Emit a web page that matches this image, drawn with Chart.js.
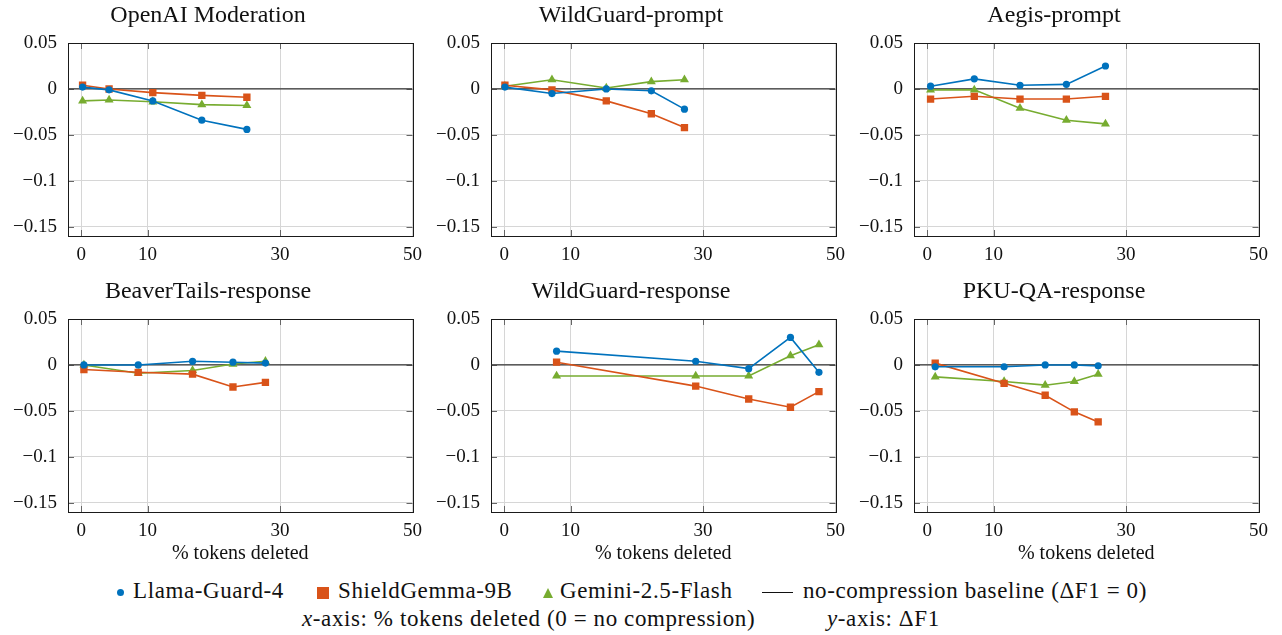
<!DOCTYPE html>
<html>
<head>
<meta charset="utf-8">
<script src="https://cdn.jsdelivr.net/npm/chart.js@4.4.0/dist/chart.umd.min.js"></script>
<style>
  body { margin: 0; background: #fff; width: 1282px; height: 635px; position: relative; overflow: hidden;
         font-family: "Liberation Serif", "Times New Roman", serif; color: #111; }
  canvas { position: absolute; }
  .lg { position: absolute; font-size: 23px; line-height: 24px; letter-spacing: 0.6px; white-space: nowrap; }
  .mk { position: absolute; }
</style>
</head>
<body>
<canvas id="c0" width="430" height="265" style="left:0px;top:0px"></canvas>
<canvas id="c1" width="430" height="265" style="left:423px;top:0px"></canvas>
<canvas id="c2" width="430" height="265" style="left:846px;top:0px"></canvas>
<canvas id="c3" width="430" height="290" style="left:0px;top:276px"></canvas>
<canvas id="c4" width="430" height="290" style="left:423px;top:276px"></canvas>
<canvas id="c5" width="430" height="290" style="left:846px;top:276px"></canvas>

<!-- legend -->
<div class="mk" style="left:117px;top:589px;width:7px;height:7px;border-radius:50%;background:#0072BD"></div>
<div class="lg" style="left:133px;top:579px">Llama-Guard-4</div>
<div class="mk" style="left:317px;top:587px;width:12px;height:12px;background:#D95319"></div>
<div class="lg" style="left:338px;top:579px">ShieldGemma-9B</div>
<div class="mk" style="left:543px;top:588px;width:0;height:0;border-left:5px solid transparent;border-right:5px solid transparent;border-bottom:10px solid #77AC30"></div>
<div class="lg" style="left:560px;top:579px">Gemini-2.5-Flash</div>
<div class="mk" style="left:762px;top:592px;width:31px;height:1.4px;background:#111"></div>
<div class="lg" style="left:803px;top:579px">no-compression baseline (ΔF1 = 0)</div>
<div class="lg" style="left:302px;top:607px"><i>x</i>-axis: % tokens deleted (0 = no compression)</div>
<div class="lg" style="left:827px;top:607px"><i>y</i>-axis: ΔF1</div>

<script>
// axis settings
const xTicks = [0, 10, 30, 50];
const yTicks = [-0.15, -0.1, -0.05, 0, 0.05];
const xMin = -2, xMax = 50, yMin = -0.16, yMax = 0.05;
const baselineValue = 0;

const modelNames = ['Llama-Guard-4', 'ShieldGemma-9B', 'Gemini-2.5-Flash'];
const modelColors = ['#0072BD', '#D95319', '#77AC30'];
const modelMarkers = ['circle', 'rect', 'triangle'];
const markerRadius = [3.6, 5.2, 5.2];

const panelTitles = ['OpenAI Moderation', 'WildGuard-prompt', 'Aegis-prompt',
                     'BeaverTails-response', 'WildGuard-response', 'PKU-QA-response'];

// OpenAI Moderation
const openaiX      = [0.2, 4.2, 10.8, 18.2, 25.0];
const openaiLlama  = [0.002, -0.001, -0.013, -0.034, -0.044];
const openaiShield = [0.004, 0.000, -0.004, -0.007, -0.009];
const openaiGemini = [-0.013, -0.012, -0.014, -0.017, -0.018];

// WildGuard-prompt
const wgPromptX      = [0.1, 7.2, 15.4, 22.2, 27.2];
const wgPromptLlama  = [0.002, -0.005, 0.000, -0.002, -0.022];
const wgPromptShield = [0.004, -0.001, -0.013, -0.027, -0.042];
const wgPromptGemini = [0.003, 0.010, 0.001, 0.008, 0.010];

// Aegis-prompt
const aegisX      = [0.5, 7.1, 14.0, 21.0, 26.9];
const aegisLlama  = [0.003, 0.011, 0.004, 0.005, 0.025];
const aegisShield = [-0.011, -0.008, -0.011, -0.011, -0.008];
const aegisGemini = [-0.001, -0.001, -0.021, -0.034, -0.038];

// BeaverTails-response
const beaverX      = [0.4, 8.6, 16.8, 22.9, 27.8];
const beaverLlama  = [0.000, 0.000, 0.004, 0.003, 0.002];
const beaverShield = [-0.005, -0.008, -0.010, -0.024, -0.019];
const beaverGemini = [0.000, -0.009, -0.006, 0.001, 0.004];

// WildGuard-response
const wgRespX      = [7.9, 28.9, 36.9, 43.2, 47.5];
const wgRespLlama  = [0.015, 0.004, -0.004, 0.030, -0.008];
const wgRespShield = [0.003, -0.023, -0.037, -0.046, -0.029];
const wgRespGemini = [-0.012, -0.012, -0.012, 0.010, 0.022];

// PKU-QA-response
const pkuX      = [1.2, 11.6, 17.8, 22.2, 25.8];
const pkuLlama  = [-0.002, -0.002, 0.000, 0.000, -0.001];
const pkuShield = [0.002, -0.020, -0.033, -0.051, -0.062];
const pkuGemini = [-0.013, -0.018, -0.022, -0.018, -0.010];

const panels = [
  { x: openaiX,   series: [openaiLlama, openaiShield, openaiGemini] },
  { x: wgPromptX, series: [wgPromptLlama, wgPromptShield, wgPromptGemini] },
  { x: aegisX,    series: [aegisLlama, aegisShield, aegisGemini] },
  { x: beaverX,   series: [beaverLlama, beaverShield, beaverGemini] },
  { x: wgRespX,   series: [wgRespLlama, wgRespShield, wgRespGemini] },
  { x: pkuX,      series: [pkuLlama, pkuShield, pkuGemini] },
];

Chart.defaults.font.family = '"Liberation Serif", "Times New Roman", serif';
Chart.defaults.color = '#111';

const tickLen = 6;
// frame + inward tick marks like pgfplots
const framePlugin = {
  id: 'frame',
  beforeDatasetsDraw(chart) {
    const { ctx, chartArea: a, scales: { x, y } } = chart;
    ctx.save();
    ctx.strokeStyle = '#666';
    ctx.lineWidth = 1;
    ctx.beginPath();
    xTicks.forEach(v => {
      const px = Math.round(x.getPixelForValue(v)) + 0.5;
      ctx.moveTo(px, a.top); ctx.lineTo(px, a.top + tickLen);
      ctx.moveTo(px, a.bottom); ctx.lineTo(px, a.bottom - tickLen);
    });
    yTicks.forEach(v => {
      const py = Math.round(y.getPixelForValue(v)) + 0.5;
      ctx.moveTo(a.left, py); ctx.lineTo(a.left + tickLen, py);
      ctx.moveTo(a.right, py); ctx.lineTo(a.right - tickLen, py);
    });
    ctx.stroke();
    ctx.strokeStyle = '#1a1a1a';
    ctx.strokeRect(Math.round(a.left) + 0.5, Math.round(a.top) + 0.5,
                   Math.round(a.right - a.left), Math.round(a.bottom - a.top));
    ctx.restore();
  }
};

function fmtY(v) {
  const r = Math.round(v * 100) / 100;
  if (r === 0) return '0';
  return (r < 0 ? '\u2212' : '') + String(Math.abs(r));
}

panels.forEach((p, i) => {
  const bottomRow = i >= 3;
  const datasets = p.series.map((vals, k) => ({
    label: modelNames[k],
    data: vals.map((v, j) => ({ x: p.x[j], y: v })),
    borderColor: modelColors[k],
    backgroundColor: modelColors[k],
    borderWidth: 1.6,
    pointStyle: modelMarkers[k],
    pointRadius: markerRadius[k],
    pointBorderWidth: 0,
    pointBackgroundColor: modelColors[k],
    tension: 0,
  }));
  // baseline drawn first (last in array)
  datasets.push({
    label: 'no-compression baseline',
    data: [{ x: xMin, y: baselineValue }, { x: xMax, y: baselineValue }],
    borderColor: '#333',
    borderWidth: 1.2,
    pointRadius: 0,
  });

  new Chart(document.getElementById('c' + i), {
    type: 'line',
    data: { datasets },
    options: {
      responsive: false,
      animation: false,
      layout: { padding: { left: 0, right: 14, top: 0, bottom: 0 } },
      plugins: {
        legend: { display: false },
        tooltip: { enabled: false },
        title: {
          display: true,
          text: panelTitles[i],
          font: { size: 24, weight: 'normal', lineHeight: 1 },
          color: '#111',
          padding: { top: 3.5, bottom: 15.5 },
        },
      },
      scales: {
        x: {
          type: 'linear',
          min: xMin, max: xMax,
          afterBuildTicks: s => { s.ticks = xTicks.map(v => ({ value: v })); },
          afterFit: s => { s.height = bottomRow ? 54 : 29; },
          grid: { color: '#d6d6d6', drawTicks: false },
          border: { display: false },
          ticks: { font: { size: 19 }, padding: 8, maxRotation: 0, color: '#111' },
          title: {
            display: bottomRow,
            text: '% tokens deleted',
            font: { size: 20, lineHeight: 1 },
            color: '#111',
            padding: { top: 0, bottom: 2 },
          },
        },
        y: {
          min: yMin, max: yMax,
          afterBuildTicks: s => { s.ticks = yTicks.map(v => ({ value: v })); },
          afterFit: s => { s.width = 68; },
          grid: { color: '#d6d6d6', drawTicks: false },
          border: { display: false },
          ticks: { font: { size: 19 }, padding: 11, color: '#111', callback: v => fmtY(v) },
        },
      },
    },
    plugins: [framePlugin],
  });
});
</script>
</body>
</html>
